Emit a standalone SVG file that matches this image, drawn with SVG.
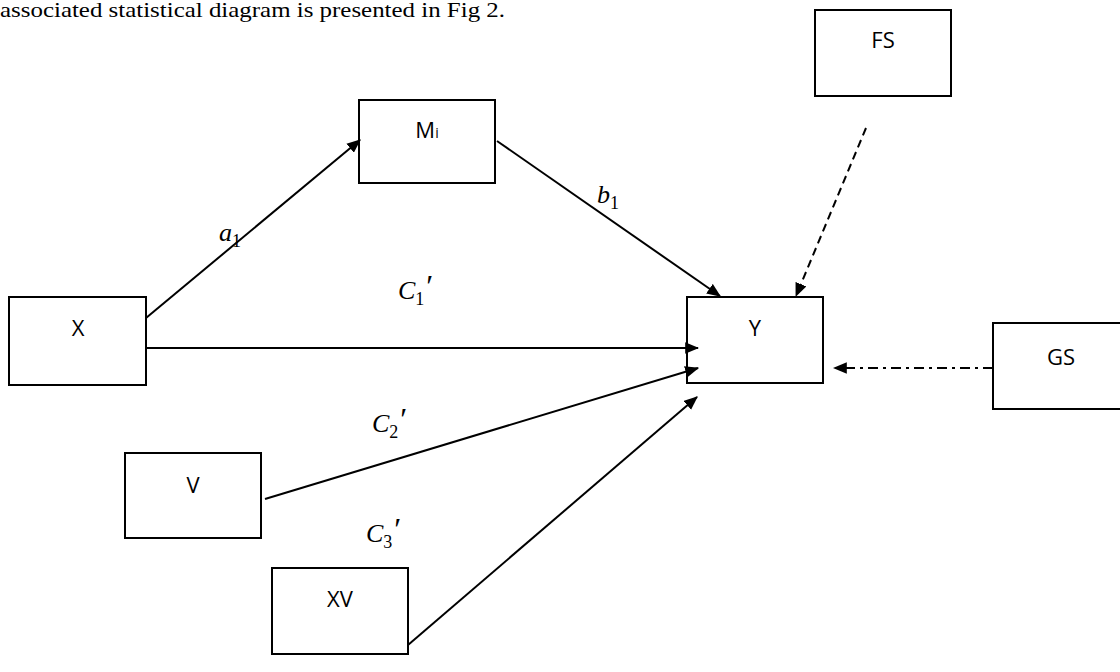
<svg xmlns="http://www.w3.org/2000/svg" width="1120" height="672" viewBox="0 0 1120 672">
<defs>
<style>
.box{fill:#fff;stroke:#000;stroke-width:2}
.lbl{font-family:"Open Sans","Liberation Sans",sans-serif;font-size:22px;fill:#000;text-anchor:middle}
.edge{stroke:#000;stroke-width:2;fill:none}
.math{font-family:"Liberation Serif","DejaVu Serif",serif;font-style:italic;font-size:26px;fill:#000}
.sub{font-style:normal;font-size:18px}
.pr{font-style:normal;font-size:32px}
.cap{font-family:"Liberation Serif","DejaVu Serif",serif;font-size:21px;fill:#000}
</style>
<marker id="ah" viewBox="0 0 12 10" refX="11" refY="5" markerWidth="14" markerHeight="12" markerUnits="userSpaceOnUse" orient="auto">
<path d="M0,0 L12,5 L0,10 Z" fill="#000"/>
</marker>
</defs>
<rect width="1120" height="672" fill="#fff"/>
<text class="cap" x="0" y="17" textLength="505" lengthAdjust="spacingAndGlyphs">associated statistical diagram is presented in Fig 2.</text>
<g id="node-FS"><rect class="box" x="815" y="10" width="136" height="86"/><text class="lbl" x="883" y="48">FS</text></g>
<g id="node-M"><rect class="box" x="359" y="100" width="136" height="83"/><text class="lbl" x="427" y="138">M<tspan font-size="14">i</tspan></text></g>
<g id="node-X"><rect class="box" x="9" y="297" width="137" height="88"/><text class="lbl" x="78" y="336">X</text></g>
<g id="node-Y"><rect class="box" x="687" y="297" width="136" height="86"/><text class="lbl" x="755" y="336">Y</text></g>
<g id="node-GS"><rect class="box" x="993" y="323" width="136" height="86"/><text class="lbl" x="1061" y="365">GS</text></g>
<g id="node-V"><rect class="box" x="125" y="453" width="136" height="85"/><text class="lbl" x="193" y="493">V</text></g>
<g id="node-XV"><rect class="box" x="272" y="568" width="136" height="86"/><text class="lbl" x="340" y="607">XV</text></g>
<g id="connectors">
<line class="edge" x1="146" y1="318" x2="360" y2="140" marker-end="url(#ah)"/>
<line class="edge" x1="497" y1="141" x2="720" y2="296" marker-end="url(#ah)"/>
<line class="edge" x1="146" y1="348" x2="698" y2="348" marker-end="url(#ah)"/>
<line class="edge" x1="265" y1="499" x2="698" y2="368" marker-end="url(#ah)"/>
<line class="edge" x1="408" y1="645" x2="697" y2="397" marker-end="url(#ah)"/>
<line class="edge" x1="866" y1="128" x2="796" y2="296" stroke-dasharray="8,5" marker-end="url(#ah)"/>
<line class="edge" x1="993" y1="368" x2="834" y2="368" stroke-dasharray="10,5,3,5" marker-end="url(#ah)"/>
<text class="math" x="219" y="241">a<tspan class="sub" dy="6">1</tspan></text>
<text class="math" x="597" y="203">b<tspan class="sub" dy="6">1</tspan></text>
<text class="math" x="398" y="299">C<tspan class="sub" dy="6">1</tspan><tspan class="pr" dx="2" dy="-8">′</tspan></text>
<text class="math" x="372" y="432">C<tspan class="sub" dy="6">2</tspan><tspan class="pr" dx="2" dy="-8">′</tspan></text>
<text class="math" x="366" y="542">C<tspan class="sub" dy="6">3</tspan><tspan class="pr" dx="2" dy="-8">′</tspan></text>
</g>
</svg>
